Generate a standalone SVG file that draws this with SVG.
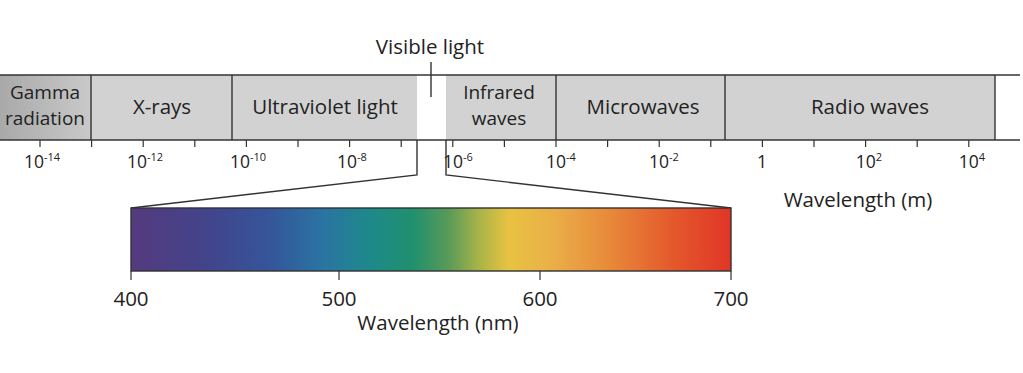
<svg xmlns="http://www.w3.org/2000/svg" width="1023" height="373" viewBox="0 0 1023 373">
<style>
text{font-family:"Open Sans","Liberation Sans",sans-serif;fill:#222}
.lbl{font-size:20.5px;text-anchor:middle}
.two{font-size:19px;text-anchor:middle}
.ax{font-size:17.5px;text-anchor:middle}
.sup{font-size:11px}
.ln{stroke:#333;stroke-width:1.4;fill:none}
.tk{stroke:#333;stroke-width:1.2}
</style>
<defs>
<linearGradient id="gam" x1="0" x2="1" y1="0" y2="0">
<stop offset="0" stop-color="#a9a9a9"/><stop offset="1" stop-color="#c9c9c9"/>
</linearGradient>
<linearGradient id="spec" x1="0" x2="1" y1="0" y2="0">
<stop offset="0" stop-color="#553a7e"/>
<stop offset="0.12" stop-color="#43438a"/>
<stop offset="0.23" stop-color="#35559a"/>
<stop offset="0.32" stop-color="#2a74a2"/>
<stop offset="0.40" stop-color="#1d8a8a"/>
<stop offset="0.47" stop-color="#20906e"/>
<stop offset="0.53" stop-color="#5a9a58"/>
<stop offset="0.58" stop-color="#a8b448"/>
<stop offset="0.63" stop-color="#e8c242"/>
<stop offset="0.70" stop-color="#eab048"/>
<stop offset="0.80" stop-color="#e8883a"/>
<stop offset="0.90" stop-color="#e45a2c"/>
<stop offset="1" stop-color="#e03526"/>
</linearGradient>
</defs>
<rect width="1023" height="373" fill="#ffffff"/>

<g id="band">
<rect x="0" y="75" width="91" height="65" fill="url(#gam)"/>
<rect x="91" y="75" width="326" height="65" fill="#d2d2d2"/>
<rect x="446" y="75" width="549" height="65" fill="#d2d2d2"/>
<line class="ln" x1="0" y1="75" x2="1020" y2="75"/>
<line class="ln" x1="0" y1="140" x2="1020" y2="140"/>
<line class="ln" x1="995" y1="75" x2="995" y2="140"/>
</g>
<g id="gamma"><text class="two" x="45" y="99" fill="#3a3a3a">Gamma</text><text class="two" x="45" y="125" fill="#3a3a3a">radiation</text></g>
<g id="xrays"><line class="ln" x1="91" y1="75" x2="91" y2="140"/><text class="lbl" x="162" y="114">X-rays</text></g>
<g id="uv"><line class="ln" x1="232" y1="75" x2="232" y2="140"/><text class="lbl" x="325" y="114">Ultraviolet light</text></g>
<g id="visible"><text class="lbl" x="430" y="54">Visible light</text><line class="ln" x1="431" y1="62" x2="431" y2="97"/></g>
<g id="infrared"><text class="two" x="499" y="99">Infrared</text><text class="two" x="499" y="125">waves</text></g>
<g id="micro"><line class="ln" x1="556" y1="75" x2="556" y2="140"/><text class="lbl" x="643" y="114">Microwaves</text></g>
<g id="radio"><line class="ln" x1="725" y1="75" x2="725" y2="140"/><text class="lbl" x="870" y="114">Radio waves</text></g>

<g id="axis">
<g class="tk">
<line x1="40" y1="140" x2="40" y2="147"/><line x1="91.6" y1="140" x2="91.6" y2="147"/>
<line x1="143.2" y1="140" x2="143.2" y2="147"/><line x1="194.8" y1="140" x2="194.8" y2="147"/>
<line x1="246.4" y1="140" x2="246.4" y2="147"/><line x1="298" y1="140" x2="298" y2="147"/>
<line x1="349.6" y1="140" x2="349.6" y2="147"/><line x1="401.2" y1="140" x2="401.2" y2="147"/>
<line x1="452.8" y1="140" x2="452.8" y2="147"/><line x1="504.4" y1="140" x2="504.4" y2="147"/>
<line x1="556" y1="140" x2="556" y2="147"/><line x1="607.6" y1="140" x2="607.6" y2="147"/>
<line x1="659.2" y1="140" x2="659.2" y2="147"/><line x1="710.8" y1="140" x2="710.8" y2="147"/>
<line x1="762.4" y1="140" x2="762.4" y2="147"/><line x1="814" y1="140" x2="814" y2="147"/>
<line x1="865.6" y1="140" x2="865.6" y2="147"/><line x1="917.2" y1="140" x2="917.2" y2="147"/>
<line x1="968.8" y1="140" x2="968.8" y2="147"/>
</g>
<text class="ax" x="42" y="168">10<tspan class="sup" dy="-7">-14</tspan></text>
<text class="ax" x="145" y="168">10<tspan class="sup" dy="-7">-12</tspan></text>
<text class="ax" x="248" y="168">10<tspan class="sup" dy="-7">-10</tspan></text>
<text class="ax" x="352" y="168">10<tspan class="sup" dy="-7">-8</tspan></text>
<text class="ax" x="458" y="168">10<tspan class="sup" dy="-7">-6</tspan></text>
<text class="ax" x="561" y="168">10<tspan class="sup" dy="-7">-4</tspan></text>
<text class="ax" x="664" y="168">10<tspan class="sup" dy="-7">-2</tspan></text>
<text class="ax" x="762" y="168">1</text>
<text class="ax" x="869" y="168">10<tspan class="sup" dy="-7">2</tspan></text>
<text class="ax" x="972" y="168">10<tspan class="sup" dy="-7">4</tspan></text>
<text class="lbl" x="858" y="207">Wavelength (m)</text>
</g>

<g id="connectors">
<polyline class="ln" points="417,140 417,175 131,208"/>
<polyline class="ln" points="446,140 446,175 731,208"/>
</g>

<g id="spectrum">
<rect x="131" y="208" width="600" height="63" fill="url(#spec)" stroke="#333" stroke-width="1.4"/>
<g class="tk">
<line x1="131" y1="271" x2="131" y2="280"/><line x1="339" y1="271" x2="339" y2="280"/>
<line x1="540" y1="271" x2="540" y2="280"/><line x1="731" y1="271" x2="731" y2="280"/>
</g>
<text class="lbl" x="131" y="306">400</text>
<text class="lbl" x="339" y="306">500</text>
<text class="lbl" x="540" y="306">600</text>
<text class="lbl" x="731" y="306">700</text>
<text class="lbl" x="438" y="330">Wavelength (nm)</text>
</g>
</svg>
